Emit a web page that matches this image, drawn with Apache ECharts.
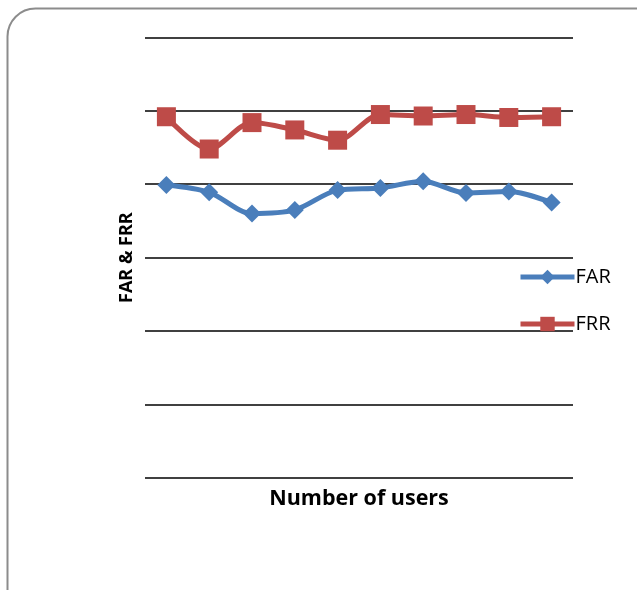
<!DOCTYPE html>
<html>
<head>
<meta charset="utf-8">
<script src="https://cdn.jsdelivr.net/npm/echarts@6/dist/echarts.min.js"></script>
<style>
  html, body { margin: 0; padding: 0; background: #fff; }
  #chart { width: 637px; height: 590px; }
</style>
</head>
<body>
<div id="chart"></div>
<script>
// 用户数
var users = ['1', '2', '3', '4', '5', '6', '7', '8', '9', '10'];
// FAR / FRR 读图估计
var farData = [3.99, 3.89, 3.60, 3.65, 3.92, 3.95, 4.04, 3.88, 3.90, 3.75];
var frrData = [4.92, 4.48, 4.84, 4.74, 4.60, 4.95, 4.93, 4.95, 4.91, 4.92];

var fontFamily = '"Open Sans", sans-serif';
var farColor = '#4a7ebb',
    frrColor = '#be4b48';

var option = {
    animation: false,
    textStyle: { fontFamily: fontFamily },
    graphic: [
        {
            type: 'rect',
            shape: { x: 7.5, y: 8.5, width: 660, height: 620, r: 28 },
            style: { fill: 'none', stroke: '#8c8c8c', lineWidth: 2 },
            silent: true
        }
    ],
    legend: {
        orient: 'vertical',
        left: 513,
        top: 262,
        itemGap: 27,
        itemWidth: 54,
        itemHeight: 18,
        textStyle: { fontSize: 20, color: '#000', fontFamily: fontFamily, padding: [0, 0, 0, -4] },
        data: [
            { name: 'FAR', lineStyle: { width: 5, color: farColor } },
            { name: 'FRR', lineStyle: { width: 5, color: frrColor } }
        ]
    },
    grid: {
        left: 145,
        right: 64,
        top: 37.5,
        bottom: 112.3
    },
    xAxis: {
        type: 'category',
        data: users,
        boundaryGap: true,
        name: 'Number of users',
        nameLocation: 'middle',
        nameGap: 10,
        nameTextStyle: { fontSize: 21.5, fontWeight: 'bold', color: '#000', fontFamily: fontFamily },
        axisLine: { show: false },
        axisTick: { show: false },
        axisLabel: { show: false }
    },
    yAxis: {
        type: 'value',
        min: 0,
        max: 6,
        interval: 1,
        name: 'FAR & FRR',
        nameLocation: 'middle',
        nameGap: 9,
        nameTextStyle: { fontSize: 18, fontWeight: 'bold', color: '#000', fontFamily: fontFamily },
        axisLine: { show: false },
        axisTick: { show: false },
        axisLabel: { show: false },
        splitLine: { lineStyle: { color: '#000', width: 1.5 } }
    },
    series: [
        {
            name: 'FAR',
            type: 'line',
            data: farData,
            smooth: 0.3,
            symbol: 'diamond',
            symbolSize: 18,
            itemStyle: { color: farColor },
            lineStyle: { width: 5, color: farColor }
        },
        {
            name: 'FRR',
            type: 'line',
            data: frrData,
            smooth: 0.3,
            symbol: 'rect',
            symbolSize: 19,
            itemStyle: { color: frrColor },
            lineStyle: { width: 5, color: frrColor }
        }
    ]
};

echarts.init(document.getElementById('chart')).setOption(option);
</script>
</body>
</html>
